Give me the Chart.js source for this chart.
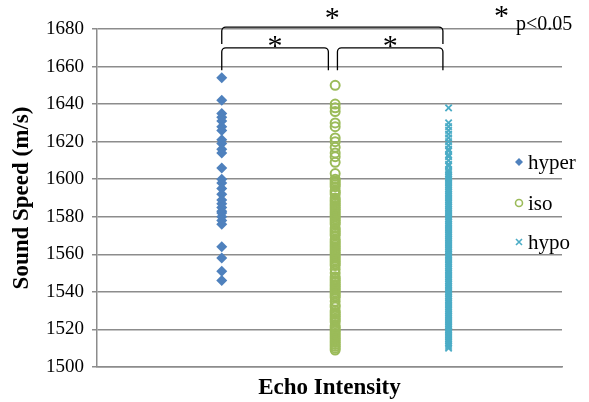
<!DOCTYPE html>
<html>
<head>
<meta charset="utf-8">
<script src="https://cdn.jsdelivr.net/npm/chart.js@4/dist/chart.umd.min.js"></script>
<style>
  html, body { margin: 0; padding: 0; background: #fff; }
  #wrap { width: 589px; height: 402px; }
</style>
</head>
<body>
<div id="wrap"><canvas id="echoChart"></canvas></div>
<script>
"use strict";

const seriesNames = ["hyper", "iso", "hypo"];
const categoryX = [1, 2, 3];

const hyperValues = [1654, 1642, 1635, 1633, 1631, 1628, 1626, 1621, 1619, 1616, 1614, 1606,
  1600, 1598, 1595, 1592, 1589, 1587, 1585, 1583, 1582, 1580, 1578, 1576, 1564, 1558, 1551, 1546];

const isoValues = [1650, 1640, 1638, 1636, 1630, 1628, 1622, 1620, 1617, 1614, 1612, 1609, 1603,
  1600, 1599, 1598, 1597, 1596, 1594, 1593, 1592, 1590, 1589, 1588, 1587, 1586, 1585, 1584, 1583,
  1582, 1581, 1580, 1579, 1578, 1577, 1576, 1574, 1573, 1572, 1571, 1570, 1568, 1567, 1566, 1565,
  1564, 1563, 1562, 1561, 1560, 1559, 1558, 1557, 1556, 1555, 1554, 1552, 1550, 1548, 1547, 1546,
  1545, 1544, 1543, 1542, 1541, 1540, 1539, 1538, 1537, 1535, 1533, 1532, 1530, 1529, 1528, 1527,
  1526, 1525, 1524, 1522, 1521, 1520, 1519, 1518, 1517, 1516, 1515, 1514, 1513, 1512, 1511, 1510, 1509];

const hypoValues = [1638, 1630, 1628, 1626, 1624, 1622, 1620, 1618, 1616, 1615, 1613, 1612, 1610,
  1608, 1607, 1605, 1604, 1603, 1602, 1601, 1600, 1599, 1598, 1597, 1596, 1595, 1594, 1593, 1592,
  1591, 1590, 1589, 1588, 1587, 1586, 1585, 1584, 1583, 1582, 1581, 1580, 1579, 1578, 1577, 1576,
  1575, 1574, 1573, 1572, 1571, 1570, 1569, 1568, 1567, 1566, 1565, 1564, 1563, 1562, 1561, 1560,
  1559, 1558, 1557, 1556, 1555, 1554, 1553, 1552, 1551, 1550, 1549, 1548, 1547, 1546, 1545, 1544,
  1543, 1542, 1541, 1540, 1539, 1538, 1537, 1536, 1535, 1534, 1533, 1532, 1531, 1530, 1529, 1528,
  1527, 1526, 1525, 1524, 1523, 1522, 1521, 1520, 1519, 1518, 1517, 1516, 1515, 1514, 1513, 1512,
  1511, 1510];

const yTicks = [1500, 1520, 1540, 1560, 1580, 1600, 1620, 1640, 1660, 1680];

// significance brackets: [fromX, toX, topY, footY]
const brackets = [
  [1, 2.95, 1681, 1672],
  [1, 1.94, 1670, 1658],
  [2.02, 2.95, 1670, 1658]
];

const SERIF = "'Liberation Serif', 'Times New Roman', serif";

function toPoints(x, values) {
  return values.map(v => ({ x: x, y: v }));
}

function drawMarker(ctx, style, x, y, color) {
  ctx.save();
  ctx.strokeStyle = color;
  ctx.fillStyle = color;
  ctx.lineWidth = 1.6;
  ctx.beginPath();
  if (style === "rectRot") {
    ctx.moveTo(x, y - 4); ctx.lineTo(x + 4, y); ctx.lineTo(x, y + 4); ctx.lineTo(x - 4, y);
    ctx.closePath(); ctx.fill();
  } else if (style === "circle") {
    ctx.arc(x, y, 3.5, 0, Math.PI * 2); ctx.stroke();
  } else {
    ctx.moveTo(x - 3, y - 3); ctx.lineTo(x + 3, y + 3);
    ctx.moveTo(x + 3, y - 3); ctx.lineTo(x - 3, y + 3); ctx.stroke();
  }
  ctx.restore();
}

const overlayPlugin = {
  id: "overlay",
  afterDraw(chart) {
    const ctx = chart.ctx;
    const xs = chart.scales.x, ys = chart.scales.y;
    const area = chart.chartArea;

    // brackets with a star over each
    ctx.save();
    ctx.strokeStyle = "#000";
    ctx.lineWidth = 1.3;
    brackets.forEach((b, i) => {
      const x1 = xs.getPixelForValue(b[0]), x2 = xs.getPixelForValue(b[1]);
      const yt = ys.getPixelForValue(b[2]), yb = ys.getPixelForValue(b[3]);
      ctx.beginPath();
      ctx.moveTo(x1, yb);
      ctx.arcTo(x1, yt, x2, yt, 4);
      ctx.arcTo(x2, yt, x2, yb, 4);
      ctx.lineTo(x2, yb);
      ctx.stroke();
      ctx.font = "30px " + SERIF;
      ctx.fillStyle = "#000";
      ctx.textAlign = "center";
      ctx.textBaseline = "alphabetic";
      ctx.fillText("*", (x1 + x2) / 2, i === 0 ? yt : yt + 7);
    });
    ctx.restore();

    // p-value note
    ctx.save();
    ctx.fillStyle = "#000";
    ctx.textBaseline = "alphabetic";
    ctx.textAlign = "left";
    ctx.font = "30px " + SERIF;
    ctx.fillText("*", area.right - 68, area.top - 4);
    ctx.font = "20px " + SERIF;
    ctx.fillText("p<0.05", area.right - 46, area.top + 1);
    ctx.restore();

    // legend
    ctx.save();
    ctx.font = "21px " + SERIF;
    ctx.fillStyle = "#000";
    ctx.textBaseline = "middle";
    ctx.textAlign = "left";
    const legendY = [162, 203, 242];
    chart.data.datasets.forEach((ds, i) => {
      const mx = area.right - 43;
      drawMarker(ctx, ds.pointStyle, mx, legendY[i], ds.borderColor);
      ctx.fillText(ds.label, mx + 9, legendY[i] + 1);
    });
    ctx.restore();
  }
};

const ctx = document.getElementById("echoChart").getContext("2d");

new Chart(ctx, {
  type: "scatter",
  data: {
    datasets: [
      {
        label: seriesNames[0],
        data: toPoints(categoryX[0], hyperValues),
        pointStyle: "rectRot",
        pointRadius: 5.5,
        backgroundColor: "#4F81BD",
        borderColor: "#4F81BD",
        borderWidth: 0
      },
      {
        label: seriesNames[1],
        data: toPoints(categoryX[1], isoValues),
        pointStyle: "circle",
        pointRadius: 4.5,
        backgroundColor: "rgba(0,0,0,0)",
        borderColor: "#9BBB59",
        borderWidth: 2
      },
      {
        label: seriesNames[2],
        data: toPoints(categoryX[2], hypoValues),
        pointStyle: "crossRot",
        pointRadius: 4.5,
        backgroundColor: "#4BACC6",
        borderColor: "#4BACC6",
        borderWidth: 1.8
      }
    ]
  },
  options: {
    responsive: true,
    maintainAspectRatio: false,
    animation: false,
    layout: { padding: { top: 29, right: 27, left: 0, bottom: 0 } },
    plugins: {
      legend: { display: false },
      tooltip: { enabled: false }
    },
    scales: {
      x: {
        type: "linear",
        min: -0.1,
        max: 4,
        ticks: { display: false },
        grid: { display: false },
        border: { display: true, color: "#8c8c8c", width: 1.5 },
        title: {
          display: true,
          text: "Echo Intensity",
          color: "#000",
          font: { family: SERIF, size: 23, weight: "bold" },
          padding: { top: 3, bottom: 0 }
        },
        afterFit(s) { s.height = 35; }
      },
      y: {
        min: 1500,
        max: 1680,
        afterBuildTicks(s) { s.ticks = yTicks.map(v => ({ value: v })); },
        ticks: {
          color: "#000",
          font: { family: SERIF, size: 19 },
          padding: 8,
          callback: v => String(v)
        },
        grid: { color: "#8c8c8c", lineWidth: 1.5, tickLength: 5 },
        border: { display: true, color: "#8c8c8c", width: 1.5 },
        title: {
          display: true,
          text: "Sound Speed (m/s)",
          color: "#000",
          font: { family: SERIF, size: 23, weight: "bold" },
          padding: { top: 8, bottom: 0 }
        },
        afterFit(s) { s.width = 97; }
      }
    }
  },
  plugins: [overlayPlugin]
});
</script>
</body>
</html>
